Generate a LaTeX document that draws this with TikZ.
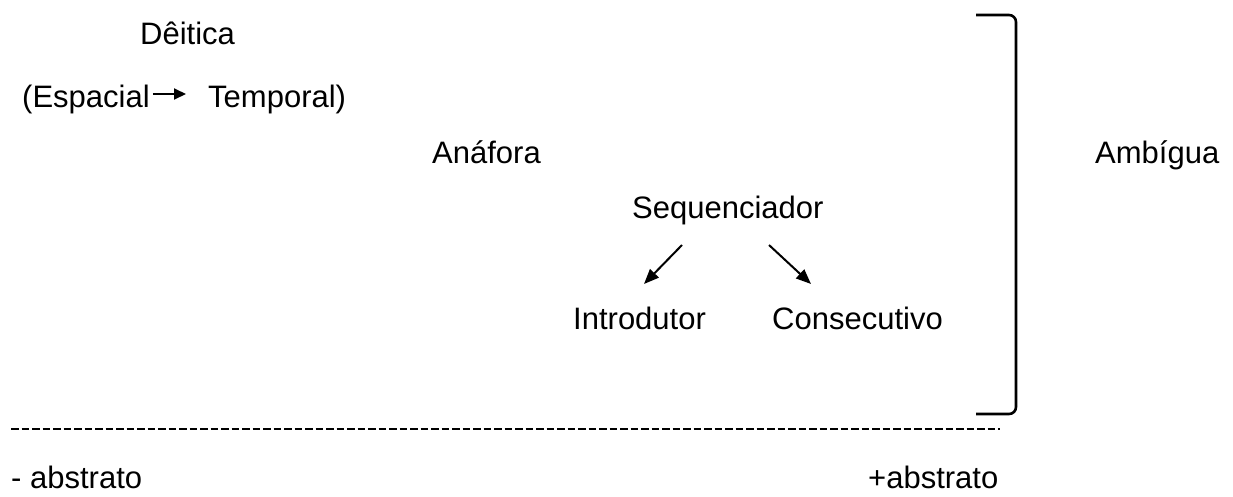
\documentclass[tikz,border=0pt]{standalone}
\usepackage{fontspec}
\setmainfont{Liberation Sans}
\usetikzlibrary{arrows.meta}
\begin{document}
\begin{tikzpicture}[x=1pt,y=-1pt,
  lbl/.style={inner sep=0pt,anchor=base west,font=\fontsize{31}{37}\selectfont},
  pointer/.style={line width=2pt,-{Triangle[length=15pt,width=12pt]}},
  shortptr/.style={line width=2pt,-{Triangle[length=12pt,width=11pt]}},
  bracketline/.style={line width=2.6pt,rounded corners=7pt},
  scale line/.style={line width=2pt,dash pattern=on 7.5pt off 3pt}]
\useasboundingbox (0,0) rectangle (1233,496);

% labels along the scale
\node[lbl] (deitica) at (140,44) {Dêitica};
\node[lbl] (espacial) at (22,107) {(Espacial};
\node[lbl] (temporal) at (208,107) {Temporal)};
\node[lbl] (anafora) at (432,163) {Anáfora};
\node[lbl] (ambigua) at (1095,163) {Ambígua};
\node[lbl] (seq) at (632,218) {Sequenciador};
\node[lbl] (intro) at (573,329) {Introdutor};
\node[lbl] (consec) at (772,329) {Consecutivo};
\node[lbl] (menos) at (11,488) {- abstrato};
\node[lbl] (mais) at (868,488) {+abstrato};

% arrow from spatial to temporal
\draw[shortptr] ([xshift=3pt,yshift=13pt]espacial.base east) -- ([xshift=-22pt,yshift=13pt]temporal.base west);

% branches of the sequencer
\coordinate (sl) at (682,245);
\coordinate (sr) at (769,245);
\coordinate (il) at (644,284);
\coordinate (cr) at (811,284);
\draw[pointer] (sl) -- (il);
\draw[pointer] (sr) -- (cr);

% right bracket
\coordinate (bt) at (976,15);
\coordinate (bb) at (976,414);
\draw[bracketline] (bt) -- (1016,15) -- (1016,414) -- (bb);

% dashed scale line
\coordinate (la) at (11,429);
\coordinate (lb) at (1000,429);
\draw[scale line] (la) -- (lb);
\end{tikzpicture}
\end{document}
